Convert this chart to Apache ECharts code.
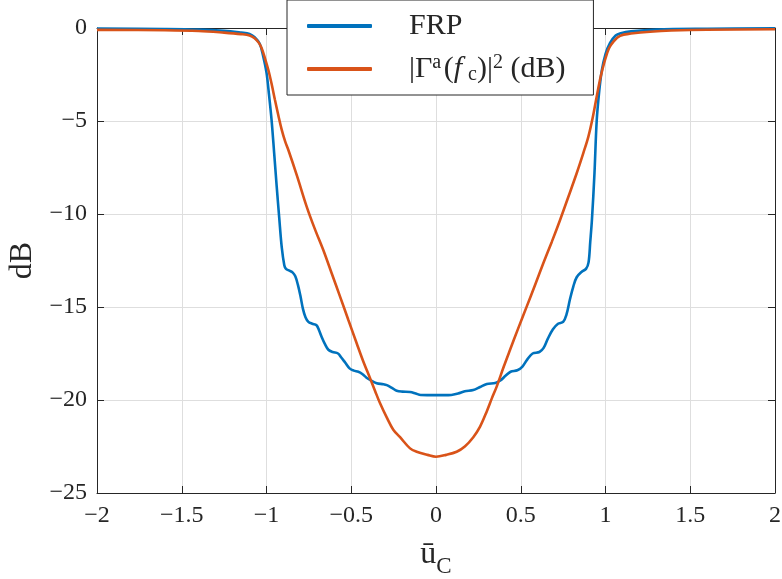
<!DOCTYPE html>
<html>
<head>
<meta charset="utf-8">
<script src="https://cdn.jsdelivr.net/npm/echarts@6/dist/echarts.min.js"></script>
<style>html,body{margin:0;padding:0;background:#fff}#c{width:782px;height:579px}</style>
</head>
<body>
<div id="c"></div>
<script>
const xTicks = [-2, -1.5, -1, -0.5, 0, 0.5, 1, 1.5, 2];
const yTicks = [-25, -20, -15, -10, -5, 0];

const frpU = [-2.0,-1.6,-1.4,-1.25,-1.15,-1.10,-1.07,-1.04,-1.02,-1.00,-0.985,-0.97,-0.955,-0.94,-0.925,-0.91,-0.895,-0.885,-0.865,-0.845,-0.83,-0.815,-0.80,-0.785,-0.77,-0.753,-0.73,-0.705,-0.69,-0.675,-0.655,-0.635,-0.61,-0.578,-0.56,-0.535,-0.51,-0.485,-0.458,-0.435,-0.41,-0.389,-0.35,-0.31,-0.29,-0.26,-0.232,-0.2,-0.153,-0.12,-0.09,0,0.05,0.09,0.13,0.17,0.22,0.26,0.3,0.35,0.38,0.41,0.44,0.48,0.51,0.54,0.57,0.61,0.635,0.66,0.69,0.72,0.75,0.77,0.79,0.81,0.83,0.86,0.885,0.9,0.91,0.92,0.935,0.948,0.963,0.978,1.0,1.027,1.06,1.09,1.15,1.3,1.6,2.0];
const frpDb = [-0.03,-0.05,-0.08,-0.15,-0.25,-0.32,-0.5,-0.85,-1.5,-2.4,-3.6,-4.95,-6.7,-8.5,-10.2,-11.8,-12.75,-12.95,-13.05,-13.15,-13.35,-13.8,-14.4,-15.1,-15.55,-15.8,-15.9,-15.98,-16.25,-16.6,-17.0,-17.3,-17.42,-17.5,-17.7,-18.0,-18.3,-18.42,-18.48,-18.6,-18.8,-18.92,-19.1,-19.15,-19.2,-19.35,-19.5,-19.55,-19.57,-19.65,-19.73,-19.74,-19.74,-19.73,-19.65,-19.53,-19.46,-19.3,-19.14,-19.08,-18.95,-18.7,-18.48,-18.4,-18.2,-17.8,-17.5,-17.42,-17.2,-16.7,-16.2,-15.9,-15.8,-15.4,-14.6,-13.9,-13.4,-13.1,-12.95,-12.6,-11.5,-10.3,-7.8,-5.0,-3.4,-2.3,-1.4,-0.8,-0.4,-0.28,-0.18,-0.08,-0.04,-0.02];

const gamU = [-2.0,-1.6,-1.4,-1.25,-1.15,-1.1,-1.07,-1.045,-1.028,-1.01,-0.989,-0.97,-0.95,-0.93,-0.91,-0.89,-0.871,-0.82,-0.763,-0.715,-0.665,-0.615,-0.566,-0.517,-0.468,-0.43,-0.389,-0.36,-0.33,-0.29,-0.252,-0.212,-0.153,-0.114,-0.05,0,0.06,0.122,0.17,0.22,0.26,0.3,0.33,0.358,0.4,0.437,0.485,0.535,0.585,0.633,0.683,0.732,0.78,0.83,0.87,0.899,0.925,0.948,0.972,0.997,1.02,1.046,1.086,1.15,1.263,1.5,2.0];
const gamDb = [-0.1,-0.12,-0.16,-0.25,-0.33,-0.4,-0.55,-0.8,-1.1,-1.6,-2.26,-3.0,-3.87,-4.7,-5.48,-6.1,-6.56,-7.95,-9.6,-10.8,-11.94,-13.2,-14.44,-15.7,-16.95,-17.9,-18.83,-19.5,-20.18,-20.95,-21.6,-22.0,-22.6,-22.78,-22.95,-23.05,-22.95,-22.78,-22.5,-22.0,-21.43,-20.6,-19.9,-19.28,-18.2,-17.3,-16.15,-14.98,-13.8,-12.65,-11.5,-10.32,-9.1,-7.81,-6.7,-5.84,-4.8,-3.69,-2.6,-1.72,-1.1,-0.74,-0.42,-0.3,-0.2,-0.11,-0.07];

const seriesNames = ['FRP', 'Gamma'];
const legendText = {
  'FRP': 'FRP',
  'Gamma': '|Γ{sup|a}\u200a({it|f}\u2009{sub|c})|{sup|2} (dB)'
};

const FONT = '"Liberation Serif", "DejaVu Serif", serif';
const INK = '#262626';
const fmt = v => (v < 0 ? '\u2212' : '') + Math.abs(v);

const chart = echarts.init(document.getElementById('c'), null, {renderer: 'canvas'});
const axisCommon = {
  type: 'value',
  axisLine: {show: true, onZero: false, lineStyle: {color: INK, width: 1}},
  axisTick: {show: true, inside: true, length: 7, lineStyle: {color: INK, width: 1}}
};
chart.setOption({
  animation: false,
  backgroundColor: '#fff',
  grid: {left: 97, right: 7, top: 28, bottom: 86, containLabel: false, outerBoundsMode: 'none'},
  xAxis: [
    Object.assign({}, axisCommon, {
      min: xTicks[0], max: xTicks[xTicks.length - 1], interval: 0.5, position: 'bottom',
      axisLabel: {show: true, margin: 11, color: INK, fontFamily: FONT, fontSize: 24, formatter: fmt, showMinLabel: true, showMaxLabel: true},
      splitLine: {show: true, lineStyle: {color: '#dedede', width: 1}},
      name: '{u|ū}{sub|C}', nameLocation: 'middle', nameGap: 46,
      nameTextStyle: {fontFamily: FONT, color: INK, rich: {
        u: {fontFamily: FONT, fontSize: 32, color: INK, verticalAlign: 'bottom'},
        sub: {fontFamily: FONT, fontSize: 23, color: INK, verticalAlign: 'bottom', padding: [0, 0, -7, 0]}
      }}
    }),
    Object.assign({}, axisCommon, {
      min: xTicks[0], max: xTicks[xTicks.length - 1], interval: 0.5, position: 'top',
      axisLabel: {show: false}, splitLine: {show: false}
    })
  ],
  yAxis: [
    Object.assign({}, axisCommon, {
      min: yTicks[0], max: yTicks[yTicks.length - 1], interval: 5, position: 'left',
      axisLabel: {show: true, margin: 10, color: INK, fontFamily: FONT, fontSize: 24, formatter: fmt, showMinLabel: true, showMaxLabel: true},
      splitLine: {show: true, lineStyle: {color: '#dedede', width: 1}},
      name: 'dB', nameLocation: 'middle', nameGap: 54, nameRotate: 90,
      nameTextStyle: {fontFamily: FONT, fontSize: 32, color: INK}
    }),
    Object.assign({}, axisCommon, {
      min: yTicks[0], max: yTicks[yTicks.length - 1], interval: 5, position: 'right',
      axisLabel: {show: false}, splitLine: {show: false}
    })
  ],
  legend: {
    show: true,
    orient: 'vertical', left: 287, top: 0,
    padding: [9, 28, 9, 20],
    icon: 'roundRect',
    itemWidth: 65, itemHeight: 4, itemGap: 9,
    backgroundColor: '#ffffff', borderColor: INK, borderWidth: 1,
    data: seriesNames,
    formatter: n => legendText[n],
    textStyle: {
      fontFamily: FONT, fontSize: 30, lineHeight: 34, color: INK, padding: [0, 0, 0, 32],
      rich: {
        it: {fontFamily: FONT, fontSize: 30, color: INK, fontStyle: 'italic'},
        sup: {fontFamily: FONT, fontSize: 20, color: INK, padding: [0, 0, 13, 0]},
        sub: {fontFamily: FONT, fontSize: 20, color: INK, padding: [0, 0, -11, 0]}
      }
    }
  },
  series: [
    {name: seriesNames[0], type: 'line', xAxisIndex: 0, yAxisIndex: 0, showSymbol: false, symbol: 'none',
     smooth: 0.35, lineStyle: {color: '#0072BD', width: 2.6}, itemStyle: {color: '#0072BD'},
     data: frpU.map((u, i) => [u, frpDb[i]]), z: 3},
    {name: seriesNames[1], type: 'line', xAxisIndex: 0, yAxisIndex: 0, showSymbol: false, symbol: 'none',
     smooth: 0.35, lineStyle: {color: '#D95319', width: 2.6}, itemStyle: {color: '#D95319'},
     data: gamU.map((u, i) => [u, gamDb[i]]), z: 4}
  ]
});
</script>
</body>
</html>
